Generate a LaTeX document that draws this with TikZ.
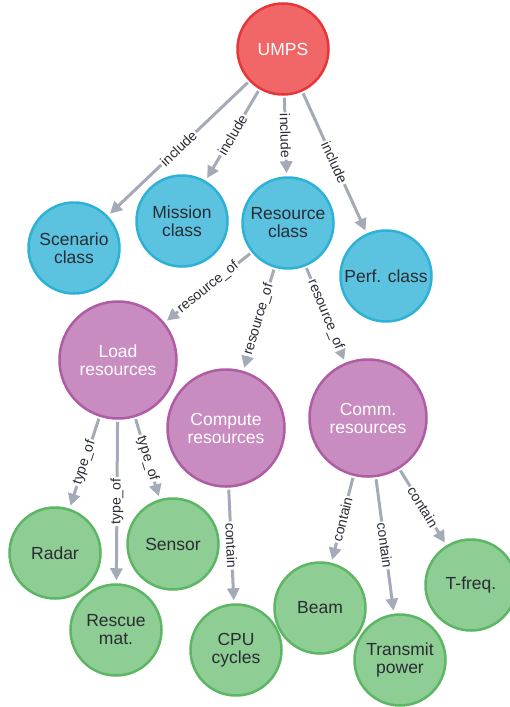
\documentclass[tikz,border=0pt]{standalone}
\usepackage{fontspec}
\setmainfont{Liberation Sans}
\usetikzlibrary{arrows.meta}
\definecolor{redfill}{HTML}{F16667}
\definecolor{redline}{HTML}{E8353A}
\definecolor{bluefill}{HTML}{5BC2DF}
\definecolor{blueline}{HTML}{2DB2D6}
\definecolor{purplefill}{HTML}{C98CC0}
\definecolor{purpleline}{HTML}{AE5CA4}
\definecolor{greenfill}{HTML}{8ECD93}
\definecolor{greenline}{HTML}{5CB664}
\definecolor{edgegray}{HTML}{A5ABB6}
\definecolor{darktext}{HTML}{2A2C34}
\tikzset{
	ball/.style={
		circle, line width=2.5pt,
		minimum size=91pt, inner sep=0pt, align=center,
		text=darktext,
		font=\fontsize{17.5}{18}\selectfont},
	umps/.style={ball, draw=redline, fill=redfill, text=white},
	cls/.style={ball, draw=blueline, fill=bluefill},
	res/.style={ball, draw=purpleline, fill=purplefill, text=white, minimum size=117pt},
	item/.style={ball, draw=greenline, fill=greenfill},
	rel/.style={
		sloped, fill=white, inner sep=1.5pt,
		text=darktext,
		font=\fontsize{14}{14}\selectfont},
	every edge/.style={
		draw=edgegray,
		line width=3pt,
		-{Triangle[length=12pt,width=12pt]},
		shorten >=3pt, shorten <=2pt}
}
\begin{document}
\begin{tikzpicture}[x=1pt, y=-1pt]
	\useasboundingbox (0,0) rectangle (510,707);
	% top level
	\node[umps] (umps) at (283,49) {UMPS};
	\node[cls] (scen) at (74,248) {Scenario\\class};
	\node[cls] (miss) at (182,221) {Mission\\class};
	\node[cls] (rcls) at (288,223) {Resource\\class};
	\node[cls] (perf) at (386,276) {Perf. class};
	% resources
	\node[res] (load) at (118,360) {Load\\resources};
	\node[res] (comp) at (226,428) {Compute\\resources};
	\node[res] (comm) at (368,418) {Comm.\\resources};
	% leaves
	\node[item] (radar) at (55,553) {Radar};
	\node[item] (resc) at (116,630) {Rescue\\mat.};
	\node[item] (sens) at (173,544) {Sensor};
	\node[item] (cpu) at (236,650) {CPU\\cycles};
	\node[item] (beam) at (320,608) {Beam};
	\node[item] (pow) at (400,660) {Transmit\\power};
	\node[item] (tfreq) at (471,585) {T-freq.};
	\draw (umps) edge node[rel] {include} (scen);
	\draw (umps) edge node[rel] {include} (miss);
	\draw (umps) edge node[rel] {include} (rcls);
	\draw (umps) edge node[rel] {include} (perf);
	\draw (rcls) edge node[rel] {resource\_of} (load);
	\draw (rcls) edge node[rel] {resource\_of} (comp);
	\draw (rcls) edge node[rel] {resource\_of} (comm);
	\draw (load) edge node[rel] {type\_of} (radar);
	\draw (load) edge node[rel] {type\_of} (resc);
	\draw (load) edge node[rel] {type\_of} (sens);
	\draw (comp) edge node[rel] {contain} (cpu);
	\draw (comm) edge node[rel] {contain} (beam);
	\draw (comm) edge node[rel] {contain} (pow);
	\draw (comm) edge node[rel] {contain} (tfreq);
\end{tikzpicture}
\end{document}
